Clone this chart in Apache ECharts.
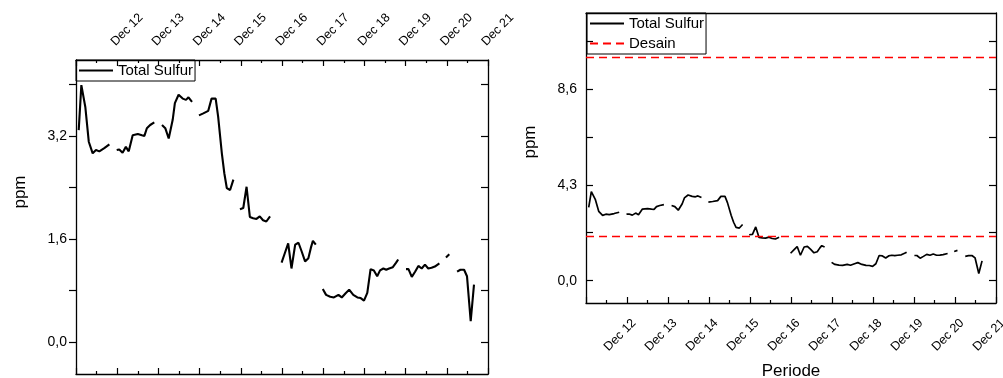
<!DOCTYPE html>
<html>
<head>
<meta charset="utf-8">
<script src="https://cdn.jsdelivr.net/npm/echarts@6/dist/echarts.min.js"></script>
<style>html,body{margin:0;padding:0;background:#fff;}#c{width:1003px;height:378px;}</style>
</head>
<body>
<div id="c"></div>
<script>
// x = day of December (fractional); null marks a gap between measurement runs
const days = [
  11.066,11.13,11.226,11.31,11.405,11.485,11.566,11.687,11.81, null,
  11.988,12.05,12.13,12.21,12.28,12.376,12.5,12.6,12.66,12.72,12.8,12.9, null,
  13.087,13.167,13.25,13.347,13.40,13.49,13.59,13.67,13.73,13.816, null,
  13.985,14.09,14.21,14.29,14.39,14.45,14.54,14.6,14.66,14.74,14.82, null,
  14.98,15.06,15.14,15.22,15.30,15.38,15.46,15.54,15.62,15.71, null,
  15.99,16.07,16.15,16.23,16.32,16.40,16.48,16.56,16.64,16.70,16.75,16.82, null,
  16.99,17.07,17.17,17.26,17.37,17.45,17.55,17.63,17.73,17.83,17.91,17.99,18.07,18.15,18.23,18.31,18.38,18.46,18.53,18.60,18.69,18.77,18.82, null,
  19.01,19.07,19.15,19.23,19.31,19.39,19.47,19.55,19.63,19.71,19.82, null,
  19.98,20.06, null,
  20.25,20.33,20.42,20.49,20.58,20.66
];
const ppm = [
  3.29,3.99,3.65,3.11,2.93,2.98,2.96,3.01,3.07, null,
  2.98,2.99,2.94,3.03,2.96,3.21,3.23,3.21,3.20,3.32,3.37,3.41, null,
  3.37,3.32,3.16,3.45,3.71,3.84,3.78,3.76,3.80,3.73, null,
  3.52,3.55,3.59,3.78,3.78,3.50,2.93,2.62,2.39,2.36,2.52, null,
  2.06,2.08,2.41,1.94,1.92,1.91,1.95,1.89,1.87,1.95, null,
  1.23,1.38,1.53,1.14,1.51,1.54,1.40,1.25,1.30,1.46,1.57,1.51, null,
  0.82,0.73,0.70,0.69,0.73,0.69,0.76,0.81,0.73,0.69,0.68,0.64,0.76,1.13,1.11,1.02,1.11,1.14,1.12,1.14,1.16,1.23,1.28, null,
  1.13,1.13,1.01,1.09,1.18,1.14,1.20,1.14,1.15,1.17,1.22, null,
  1.31,1.36, null,
  1.09,1.12,1.12,1.02,0.32,0.89
];
const dayTicks = [11,12,13,14,15,16,17,18,19,20,21];
const lastDay = [21];
const desain = [2, 10];
const leftYLabels = [0, 1.6, 3.2];
const leftYTicks = [0, 0.8, 1.6, 2.4, 3.2, 4.0];
const rightYLabels = [0, 4.3, 8.6];
const rightYTicks = [0, 2.15, 4.3, 6.45, 8.6, 10.75];

const data = days.map((d, i) => [d, ppm[i]]);
// gap items need an x; use midpoint between neighbours and an empty value
for (let i = 0; i < data.length; i++) {
  if (days[i] === null) data[i] = [(days[i-1] + days[i+1]) / 2, '-'];
}

const FONT = 'Liberation Sans, Arial, sans-serif';
const black = '#000';
const fmt = v => v.toFixed(1).replace('.', ',');
// blank line shifts the rotated label across its own baseline
const dayFmtTop = v => (v === 11 ? '' : 'Dec ' + v + '\n ');
const dayFmtBot = v => (v === 11 ? '' : ' \nDec ' + v);

function xBase(grid, pos) {
  return {
    type: 'value', gridIndex: grid, position: pos, min: 11, max: 21, interval: 1,
    splitLine: { show: false },
    axisLine: { show: true, onZero: false, lineStyle: { color: black, width: 1.3 } },
    axisTick: { show: true, inside: true, length: 6, lineStyle: { color: black, width: 1.2 } },
    minorTick: { show: true, splitNumber: 2, length: 3, lineStyle: { color: black, width: 1.2 } },
    axisLabel: { show: false }
  };
}
function yBase(grid, pos, min, max, ticks, inside) {
  return {
    type: 'value', gridIndex: grid, position: pos, min: min, max: max,
    splitLine: { show: false },
    axisLine: { show: true, onZero: false, lineStyle: { color: black, width: 1.3 } },
    axisTick: { show: true, inside: inside, length: 7, customValues: ticks, lineStyle: { color: black, width: 1.2 } },
    axisLabel: { show: false }
  };
}

const xTopL = xBase(0, 'top');
xTopL.axisLabel = { show: true, rotate: -45, margin: 12, formatter: dayFmtTop, customValues: dayTicks,
  showMinLabel: true, showMaxLabel: true, hideOverlap: false,
  fontSize: 12.5, lineHeight: 12, color: black, fontFamily: FONT };
const xBotL = xBase(0, 'bottom');
const botLabel = { show: true, rotate: 45, margin: 11, formatter: dayFmtBot,
  fontSize: 12.5, lineHeight: 20, color: black, fontFamily: FONT };
const xBotR = xBase(1, 'bottom');
xBotR.axisLabel = Object.assign({}, botLabel, { customValues: dayTicks });
xBotR.name = 'Periode';
xBotR.nameLocation = 'middle';
xBotR.nameGap = 55;
xBotR.nameTextStyle = { fontSize: 17, color: black, fontFamily: FONT };
// second bottom axis carrying only the last date label
const xBotR21 = xBase(1, 'bottom');
xBotR21.axisLine = { show: false };
xBotR21.axisTick = { show: false };
xBotR21.minorTick = { show: false };
xBotR21.axisLabel = Object.assign({}, botLabel, { customValues: lastDay, showMaxLabel: true, showMinLabel: true });
const xTopR = xBase(1, 'top');
xTopR.axisTick = { show: false };
xTopR.minorTick = { show: false };

const yLeftL = yBase(0, 'left', -0.5, 4.38, leftYTicks, false);
yLeftL.axisLabel = { show: true, customValues: leftYLabels, formatter: fmt, margin: 9,
  fontSize: 14, color: black, fontFamily: FONT };
yLeftL.name = 'ppm';
yLeftL.nameLocation = 'middle';
yLeftL.nameGap = 47;
yLeftL.nameTextStyle = { fontSize: 17, color: black, fontFamily: FONT, padding: [0, 0, 0, 50] };
const yRightL = yBase(0, 'right', -0.5, 4.38, leftYTicks, true);
const yLeftR = yBase(1, 'left', -1, 12, rightYTicks, true);
yLeftR.axisLabel = { show: true, customValues: rightYLabels, formatter: fmt, margin: 9,
  fontSize: 14, color: black, fontFamily: FONT };
yLeftR.name = 'ppm';
yLeftR.nameLocation = 'middle';
yLeftR.nameGap = 47;
yLeftR.nameTextStyle = { fontSize: 17, color: black, fontFamily: FONT, padding: [0, 0, 0, 32] };
const yRightR = yBase(1, 'right', -1, 12, rightYTicks, true);

const legendBase = {
  borderColor: black, borderWidth: 1, borderRadius: 0, padding: [3, 2, 3, 2],
  itemWidth: 34, itemHeight: 12, itemGap: 5, orient: 'vertical',
  itemStyle: { opacity: 0 },
  textStyle: { fontSize: 15, color: black, fontFamily: FONT },
  selectedMode: false
};

const option = {
  animation: false,
  backgroundColor: '#fff',
  grid: [
    { left: 76, top: 60, width: 412, height: 314, outerBoundsMode: 'none' },
    { left: 586, top: 13, width: 410, height: 290, outerBoundsMode: 'none' }
  ],
  xAxis: [xTopL, xBotL, xBotR, xTopR, xBotR21],
  yAxis: [yLeftL, yRightL, yLeftR, yRightR],
  legend: [
    Object.assign({}, legendBase, { left: 76, top: 60, data: ['Total Sulfur'] }),
    Object.assign({}, legendBase, { left: 587, top: 13, data: ['Total Sulfur', 'Desain'] })
  ],
  series: [
    { name: 'Total Sulfur', type: 'line', xAxisIndex: 0, yAxisIndex: 0, data: data,
      symbol: 'none', connectNulls: false, lineStyle: { color: black, width: 2.1 }, itemStyle: { color: black } },
    { name: 'Total Sulfur', type: 'line', xAxisIndex: 2, yAxisIndex: 2, data: data,
      symbol: 'none', connectNulls: false, lineStyle: { color: black, width: 1.7 }, itemStyle: { color: black } },
    { name: 'Desain', type: 'line', xAxisIndex: 2, yAxisIndex: 2, data: [],
      symbol: 'none', lineStyle: { color: '#ff0000', width: 1.3, type: [8, 5] }, itemStyle: { color: '#ff0000' },
      markLine: { silent: true, symbol: 'none', label: { show: false },
        lineStyle: { color: '#ff0000', width: 1.3, type: [8, 5] },
        data: desain.map(v => ({ yAxis: v })) } }
  ]
};

const chart = echarts.init(document.getElementById('c'), null, { renderer: 'canvas' });
chart.setOption(option);
</script>
</body>
</html>
